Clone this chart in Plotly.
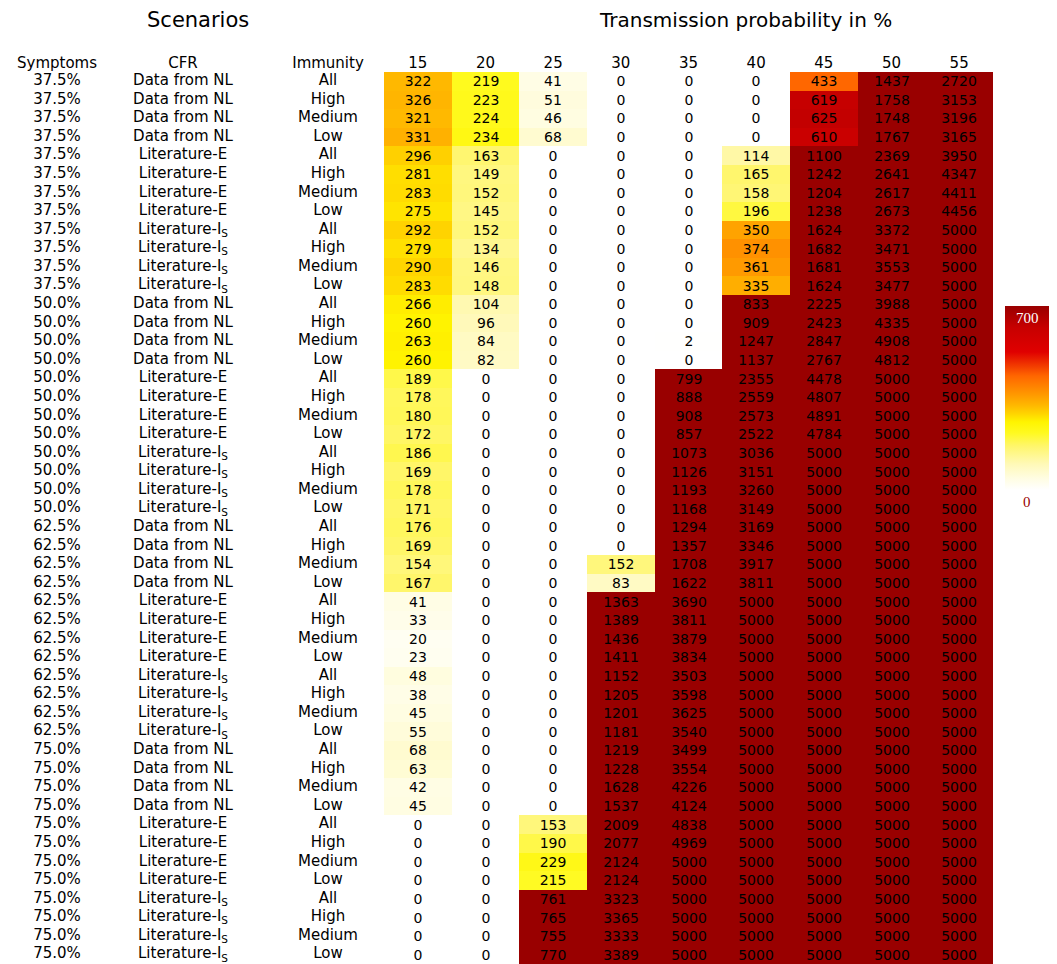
import plotly.graph_objects as go

# ---------------- data ----------------
prob_cols = [15, 20, 25, 30, 35, 40, 45, 50, 55]
symptom_levels = ["37.5%", "50.0%", "62.5%", "75.0%"]
cfr_levels = ["Data from NL", "Literature-E", "Literature-I<sub>S</sub>"]
immunity_levels = ["All", "High", "Medium", "Low"]
label_headers = ["Symptoms", "CFR", "Immunity"]

p15 = [322, 326, 321, 331, 296, 281, 283, 275, 292, 279, 290, 283,
       266, 260, 263, 260, 189, 178, 180, 172, 186, 169, 178, 171,
       176, 169, 154, 167, 41, 33, 20, 23, 48, 38, 45, 55,
       68, 63, 42, 45, 0, 0, 0, 0, 0, 0, 0, 0]
p20 = [219, 223, 224, 234, 163, 149, 152, 145, 152, 134, 146, 148,
       104, 96, 84, 82, 0, 0, 0, 0, 0, 0, 0, 0,
       0, 0, 0, 0, 0, 0, 0, 0, 0, 0, 0, 0,
       0, 0, 0, 0, 0, 0, 0, 0, 0, 0, 0, 0]
p25 = [41, 51, 46, 68, 0, 0, 0, 0, 0, 0, 0, 0,
       0, 0, 0, 0, 0, 0, 0, 0, 0, 0, 0, 0,
       0, 0, 0, 0, 0, 0, 0, 0, 0, 0, 0, 0,
       0, 0, 0, 0, 153, 190, 229, 215, 761, 765, 755, 770]
p30 = [0, 0, 0, 0, 0, 0, 0, 0, 0, 0, 0, 0,
       0, 0, 0, 0, 0, 0, 0, 0, 0, 0, 0, 0,
       0, 0, 152, 83, 1363, 1389, 1436, 1411, 1152, 1205, 1201, 1181,
       1219, 1228, 1628, 1537, 2009, 2077, 2124, 2124, 3323, 3365, 3333, 3389]
p35 = [0, 0, 0, 0, 0, 0, 0, 0, 0, 0, 0, 0,
       0, 0, 2, 0, 799, 888, 908, 857, 1073, 1126, 1193, 1168,
       1294, 1357, 1708, 1622, 3690, 3811, 3879, 3834, 3503, 3598, 3625, 3540,
       3499, 3554, 4226, 4124, 4838, 4969, 5000, 5000, 5000, 5000, 5000, 5000]
p40 = [0, 0, 0, 0, 114, 165, 158, 196, 350, 374, 361, 335,
       833, 909, 1247, 1137, 2355, 2559, 2573, 2522, 3036, 3151, 3260, 3149,
       3169, 3346, 3917, 3811, 5000, 5000, 5000, 5000, 5000, 5000, 5000, 5000,
       5000, 5000, 5000, 5000, 5000, 5000, 5000, 5000, 5000, 5000, 5000, 5000]
p45 = [433, 619, 625, 610, 1100, 1242, 1204, 1238, 1624, 1682, 1681, 1624,
       2225, 2423, 2847, 2767, 4478, 4807, 4891, 4784, 5000, 5000, 5000, 5000,
       5000, 5000, 5000, 5000, 5000, 5000, 5000, 5000, 5000, 5000, 5000, 5000,
       5000, 5000, 5000, 5000, 5000, 5000, 5000, 5000, 5000, 5000, 5000, 5000]
p50 = [1437, 1758, 1748, 1767, 2369, 2641, 2617, 2673, 3372, 3471, 3553, 3477,
       3988, 4335, 4908, 4812, 5000, 5000, 5000, 5000, 5000, 5000, 5000, 5000,
       5000, 5000, 5000, 5000, 5000, 5000, 5000, 5000, 5000, 5000, 5000, 5000,
       5000, 5000, 5000, 5000, 5000, 5000, 5000, 5000, 5000, 5000, 5000, 5000]
p55 = [2720, 3153, 3196, 3165, 3950, 4347, 4411, 4456, 5000, 5000, 5000, 5000,
       5000, 5000, 5000, 5000, 5000, 5000, 5000, 5000, 5000, 5000, 5000, 5000,
       5000, 5000, 5000, 5000, 5000, 5000, 5000, 5000, 5000, 5000, 5000, 5000,
       5000, 5000, 5000, 5000, 5000, 5000, 5000, 5000, 5000, 5000, 5000, 5000]

columns = [p15, p20, p25, p30, p35, p40, p45, p50, p55]

# ---------------- build rows ----------------
symptoms, cfr, immunity = [], [], []
for s in symptom_levels:
    for c in cfr_levels:
        for im in immunity_levels:
            symptoms.append(s)
            cfr.append(c)
            immunity.append(im)
n_rows = len(symptoms)
rows = list(range(n_rows))
z = [[col[r] for col in columns] for r in rows]

colorscale = [
    [0.00, "#FFFFFF"],
    [0.06, "#FFFDE4"],
    [0.14, "#FFF9B8"],
    [0.24, "#FFF66A"],
    [0.31, "#FFFA20"],
    [0.37, "#FFF400"],
    [0.41, "#FFD800"],
    [0.46, "#FFB800"],
    [0.52, "#FF9800"],
    [0.62, "#FF6600"],
    [0.75, "#E00000"],
    [0.88, "#C80000"],
    [1.00, "#990000"],
]

# ---------------- layout constants ----------------
FONT = "DejaVu Sans"
W, H = 1057, 964
TOP = 72
PLOT_H = H - TOP
x0_px, x1_px = 384, 993
label_centers_px = [57, 183, 328]   # horizontal centres of the label columns

fig = go.Figure()

fig.add_trace(go.Heatmap(
    z=z, x=prob_cols, y=rows,
    text=z, texttemplate="%{text}",
    textfont=dict(family=FONT, size=14, color="#000000"),
    colorscale=colorscale, zmin=0, zmax=700,
    xaxis="x", yaxis="y",
    colorbar=dict(
        x=1005 / W, xanchor="left",
        y=(H - 398) / PLOT_H, yanchor="middle",
        lenmode="pixels", len=184,
        thickness=44, outlinewidth=0, xpad=0, ypad=0,
        showticklabels=False, ticks="",
    ),
    hoverinfo="skip",
))

label_cols = [symptoms, cfr, immunity]
for i, labels in enumerate(label_cols):
    fig.add_trace(go.Scatter(
        x=[label_centers_px[i]] * n_rows, y=rows, text=labels, mode="text",
        textposition="middle center",
        textfont=dict(family=FONT, size=15, color="#000000"),
        xaxis="x2", yaxis="y", showlegend=False, hoverinfo="skip",
        cliponaxis=False,
    ))

fig.update_layout(
    width=W, height=H,
    margin=dict(l=0, r=0, t=TOP, b=0, autoexpand=False),
    paper_bgcolor="white", plot_bgcolor="white",
    showlegend=False,
    xaxis=dict(
        domain=[x0_px / W, x1_px / W], anchor="y", side="top",
        tickmode="array", tickvals=prob_cols, ticktext=[str(v) for v in prob_cols],
        range=[12.5, 57.5], showgrid=False, zeroline=False, showline=False,
        ticks="", tickfont=dict(family=FONT, size=15, color="#000000"),
        automargin=False, fixedrange=True,
    ),
    xaxis2=dict(
        domain=[0, x0_px / W], anchor="y", side="top",
        tickmode="array", tickvals=label_centers_px, ticktext=label_headers,
        range=[0, x0_px], showgrid=False, zeroline=False, showline=False,
        ticks="", tickfont=dict(family=FONT, size=15, color="#000000"),
        automargin=False, fixedrange=True,
    ),
    yaxis=dict(
        domain=[0, 1], range=[n_rows - 0.5, -0.5],
        showticklabels=False, showgrid=False, zeroline=False, showline=False,
        ticks="", automargin=False, fixedrange=True,
    ),
    annotations=[
        dict(text="Scenarios", xref="paper", yref="paper",
             x=198 / W, y=(H - 20) / PLOT_H, xanchor="center", yanchor="middle",
             showarrow=False, font=dict(family=FONT, size=21, color="#000000")),
        dict(text="Transmission probability in %", xref="paper", yref="paper",
             x=745 / W, y=(H - 20) / PLOT_H, xanchor="center", yanchor="middle",
             showarrow=False, font=dict(family=FONT, size=20, color="#000000")),
        dict(text="700", xref="paper", yref="paper",
             x=1027 / W, y=(H - 318) / PLOT_H, xanchor="center", yanchor="middle",
             showarrow=False,
             font=dict(family="Liberation Serif", size=15, color="#FFFFFF")),
        dict(text="0", xref="paper", yref="paper",
             x=1027 / W, y=(H - 502) / PLOT_H, xanchor="center", yanchor="middle",
             showarrow=False,
             font=dict(family="Liberation Serif", size=15, color="#990000")),
    ],
)

fig.write_html(
    "out.html",
    config={"displayModeBar": False},
    post_script="document.body.style.margin='0';document.body.style.overflow='hidden';",
)
